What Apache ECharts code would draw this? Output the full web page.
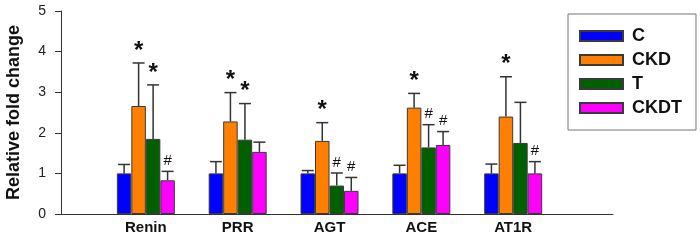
<!DOCTYPE html>
<html>
<head>
<meta charset="utf-8">
<script src="https://cdn.jsdelivr.net/npm/echarts@6/dist/echarts.min.js"></script>
<style>
  html, body { margin: 0; padding: 0; background: #fff; }
  #chart { width: 700px; height: 247px; }
</style>
</head>
<body>
<div id="chart"></div>
<script>
const categories = ["Renin", "PRR", "AGT", "ACE", "AT1R"];
const groups = ["C", "CKD", "T", "CKDT"];
const colors = ["#0000ff", "#ff8000", "#006000", "#ff00ff"];

// means
const meanC = [1.0, 1.0, 1.0, 1.0, 1.0];
const meanCKD = [2.66, 2.28, 1.80, 2.62, 2.40];
const meanT = [1.85, 1.83, 0.70, 1.64, 1.75];
const meanCKDT = [0.83, 1.53, 0.57, 1.70, 1.0];

// upper error bar lengths
const errC = [0.22, 0.29, 0.07, 0.20, 0.23];
const errCKD = [1.06, 0.71, 0.45, 0.35, 0.98];
const errT = [1.33, 0.89, 0.31, 0.56, 1.0];
const errCKDT = [0.22, 0.24, 0.33, 0.33, 0.29];

// significance marks
const markC = ["", "", "", "", ""];
const markCKD = ["*", "*", "*", "*", "*"];
const markT = ["*", "*", "#", "#", ""];
const markCKDT = ["#", "", "#", "#", "#"];

const yTicks = [0, 1, 2, 3, 4, 5];

const means = [meanC, meanCKD, meanT, meanCKDT];
const errs = [errC, errCKD, errT, errCKDT];
const marks = [markC, markCKD, markT, markCKDT];

const BAR_W = 14.5;
const CAP_W = 12;

const chart = echarts.init(document.getElementById("chart"), null, { renderer: "canvas" });

const barSeries = groups.map((g, gi) => ({
  name: g,
  type: "bar",
  data: means[gi].map((v, i) => [i, v]),
  barWidth: BAR_W,
  barGap: "0%",
  itemStyle: { color: colors[gi], borderColor: "#3a3a3a", borderWidth: 1 },
  z: 2,
  animation: false,
}));

const errSeries = groups.map((g, gi) => ({
  type: "custom",
  data: means[gi].map((v, i) => [i, v, errs[gi][i]]),
  z: 3,
  silent: true,
  animation: false,
  clip: false,
  renderItem: (params, api) => {
    const off = (gi - 1.5) * BAR_W;
    const p0 = api.coord([api.value(0), api.value(1)]);
    const p1 = api.coord([api.value(0), api.value(1) + api.value(2)]);
    const x = p0[0] + off;
    const mark = marks[gi][params.dataIndex];
    const children = [
      { type: "line", shape: { x1: x, y1: p0[1], x2: x, y2: p1[1] }, style: { stroke: "#333", lineWidth: 1.5 } },
      { type: "line", shape: { x1: x - CAP_W / 2, y1: p1[1], x2: x + CAP_W / 2, y2: p1[1] }, style: { stroke: "#333", lineWidth: 1.5 } },
    ];
    if (mark === "*") {
      children.push({
        type: "text",
        style: { text: "*", x: x, y: p1[1], align: "center", verticalAlign: "bottom",
          font: "bold 24px 'Liberation Sans', Arial, sans-serif", fill: "#111" },
      });
    } else if (mark === "#") {
      children.push({
        type: "text",
        style: { text: "#", x: x, y: p1[1] - 3, align: "center", verticalAlign: "bottom",
          font: "15px 'Liberation Sans', Arial, sans-serif", fill: "#111" },
      });
    }
    return { type: "group", children };
  },
}));

chart.setOption({
  backgroundColor: "#fff",
  animation: false,
  textStyle: { fontFamily: "'Liberation Sans', Arial, sans-serif" },
  grid: { left: 61, right: 87, top: 11, bottom: 33, outerBoundsMode: "none", containLabel: false },
  legend: {
    data: groups,
    orient: "vertical",
    left: 568,
    top: 14,
    itemWidth: 43,
    itemHeight: 10,
    itemGap: 6,
    padding: [13, 14, 13, 11],
    borderColor: "#777",
    borderWidth: 1,
    selectedMode: false,
    icon: "rect",
    textStyle: { fontSize: 18, fontWeight: "bold", color: "#111", padding: [0, 0, 0, 4], lineHeight: 17 },
  },
  xAxis: {
    type: "value",
    min: -0.924,
    max: 5.087,
    splitLine: { show: false },
    axisTick: { show: false },
    axisLine: { onZero: false, lineStyle: { color: "#333", width: 1 } },
    axisLabel: {
      customValues: [0, 1, 2, 3, 4],
      formatter: (v) => categories[Math.round(v)],
      fontSize: 15,
      fontWeight: "bold",
      color: "#111",
      margin: 6,
    },
  },
  yAxis: {
    type: "value",
    min: 0,
    max: 5,
    interval: 1,
    name: "Relative fold change",
    nameLocation: "middle",
    nameGap: 38,
    nameTextStyle: { fontSize: 18, fontWeight: "bold", color: "#111" },
    splitLine: { show: false },
    axisLine: { show: true, onZero: false, lineStyle: { color: "#333", width: 1 } },
    axisTick: { show: true, length: 6, lineStyle: { color: "#333" } },
    axisLabel: {
      fontSize: 14,
      color: "#222",
      margin: 15,
      formatter: (v) => (yTicks.includes(v) ? String(v) : ""),
    },
  },
  series: [...barSeries, ...errSeries],
});
</script>
</body>
</html>
